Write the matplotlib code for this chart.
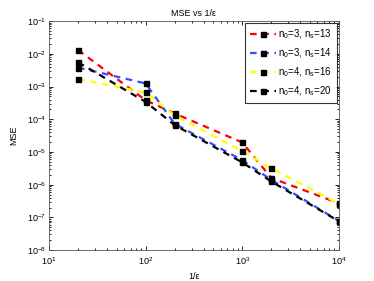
import matplotlib
matplotlib.use('Agg')
import matplotlib.pyplot as plt

plt.rcParams['font.family'] = ['Liberation Sans', 'DejaVu Sans']
plt.rcParams['mathtext.fontset'] = 'custom'
plt.rcParams['mathtext.rm'] = 'Liberation Sans'
plt.rcParams['mathtext.it'] = 'Liberation Sans:italic'

inv_eps = [20, 100, 200, 1000, 2000, 10000]

mse_3_13 = [1.3e-2, 3.8e-4, 1.5e-4, 1.95e-5, 1.6e-6, 2.7e-7]
mse_3_14 = [3.8e-3, 1.24e-3, 7.2e-5, 5.6e-6, 1.4e-6, 7.8e-8]
mse_4_16 = [1.7e-3, 6.6e-4, 1.3e-4, 1.07e-5, 3.2e-6, 2.6e-7]
mse_4_20 = [5.5e-3, 3.4e-4, 6.6e-5, 4.8e-6, 1.25e-6, 7.6e-8]

labels = [r'n$_0$=3, n$_\mathrm{s}$=13', r'n$_0$=3, n$_\mathrm{s}$=14',
          r'n$_0$=4, n$_\mathrm{s}$=16', r'n$_0$=4, n$_\mathrm{s}$=20']
colors = ['#ff0000', '#2f4fff', '#ffff00', '#000000']

fig = plt.figure(figsize=(3.74, 2.81), dpi=100)
ax = fig.add_axes([0.131, 0.110, 0.775, 0.815])

for ys, c, lab in zip([mse_3_13, mse_3_14, mse_4_16, mse_4_20], colors, labels):
    ax.loglog(inv_eps, ys, '--', color=c, lw=1.6, dashes=(3, 2.5),
              marker='s', ms=3.6, mfc='k', mec='k', label=lab)

ax.set_xlim(10, 1e4)
ax.set_ylim(1e-8, 1e-1)
ax.tick_params(which='both', direction='in', top=True, right=True, labelsize=6.5,
               width=0.6)
ax.tick_params(axis='x', pad=4)
ax.tick_params(axis='y', pad=2)
ax.tick_params(which='major', length=3)
ax.tick_params(which='minor', length=1.6)
for s in ax.spines.values():
    s.set_linewidth(0.6)
    s.set_color('#555555')

ax.set_title('MSE vs 1/ε', fontsize=6.5, pad=4)
ax.set_xlabel('1/ε', fontsize=6.5, labelpad=3)
ax.set_ylabel('MSE', fontsize=6.5, labelpad=6)

leg = ax.legend(loc='upper right', fontsize=7, frameon=True, fancybox=False,
                edgecolor='k', handlelength=2.6, labelspacing=0.55,
                borderaxespad=0.2, handletextpad=0.3, borderpad=0.5)
leg.get_frame().set_linewidth(0.8)

fig.savefig('out.png', dpi=100)
